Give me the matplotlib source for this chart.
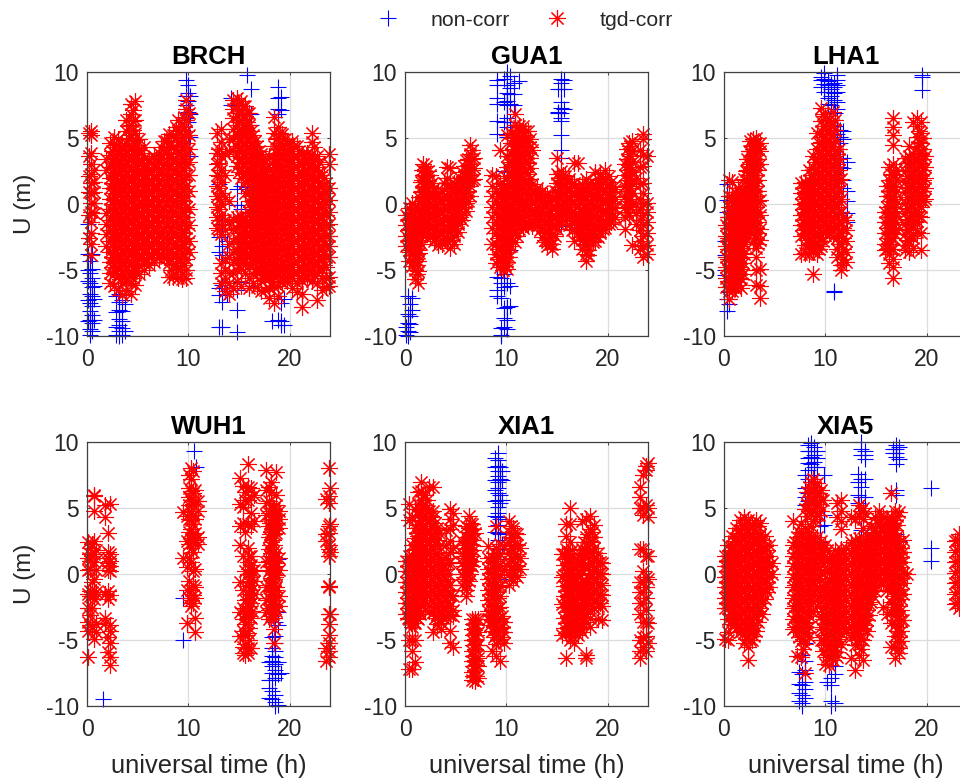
import matplotlib
matplotlib.use("Agg")
import matplotlib.pyplot as plt

plt.rcParams['font.family'] = ['Liberation Sans', 'DejaVu Sans']
plt.rcParams['axes.unicode_minus'] = False

STATIONS = ['BRCH', 'GUA1', 'LHA1', 'WUH1', 'XIA1', 'XIA5']
X_TICKS = [0, 10, 20]
Y_TICKS = [-10, -5, 0, 5, 10]

# ---- each series: list of times, and for each time a list of U values ----
BRCH_blue_t = [0.1, 0.3, 0.5, 0.7, 2.9, 3.2, 3.5, 3.8, 9.8, 10.0, 10.2, 15.8, 16.2, 18.9, 19.2, 19.5, 13.0, 13.3, 13.8, 14.8, 15.2, 16.0, 14.2, 18.3]
BRCH_blue_u = [
 [-1.5, -3.8, -5.0, -5.8, -7.3, -8.9],
 [-4.3, -5.2, -6.0, -6.8, -7.5, -8.1, -8.8, -9.5, -9.9],
 [-3.8, -4.9, -5.6, -6.3, -7.0, -7.7, -8.4, -9.0, -9.6],
 [-6.2, -7.2, -8.8],
 [-7.0, -8.2, -9.3, -9.9],
 [-6.8, -7.4, -8.0, -8.7, -9.2, -9.6, -10.0],
 [-6.5, -7.3, -8.1, -8.9, -9.4, -9.9],
 [-7.6, -9.6],
 [9.4, 8.2, 7.5, 6.5],
 [9.0, 8.4, 7.8, 7.0, 6.2, 5.2],
 [8.2, 6.8, 5.1, 3.6],
 [9.8, 1.3],
 [8.7, 6.8, 6.0, 4.5, 2.2],
 [8.9, 8.0, 7.2, 6.8, 2.8, -8.8],
 [8.1, 7.1, -7.5, -8.9, -9.2],
 [-7.2, -9.2],
 [3.9, 1.5, -2.5, -3.6, -6.4, -6.9, -9.3],
 [-1.5, -3.2, -3.9, -6.1, -7.4, -9.3],
 [-2.8, -3.6, -6.8],
 [-8.0, -9.7, -6.5, -0.1, 1.1],
 [-5.9, -0.4, 1.4],
 [6.8, 6.0, -0.7, -6.2],
 [8.0, 7.5],
 [-8.9],
]
BRCH_red_t = [0.15, 0.4, 0.7, 1.9, 2.3, 2.7, 3.1, 3.5, 3.9, 4.3, 4.7, 5.1, 5.6, 6.1, 6.6, 7.1, 7.6, 8.1, 8.5, 9.0, 9.4, 9.8, 10.1,
 12.8, 13.2, 13.6, 14.0, 14.4, 14.8, 15.2, 15.6, 16.0, 16.4, 16.8, 17.2, 17.6, 18.0, 18.5, 18.9, 19.3, 19.8, 20.2, 20.7, 21.2, 21.7, 22.2, 22.7, 23.2, 23.6, 23.95]
BRCH_red_u = [
 [5.4, 3.6, 2.1, 0.9, -0.8, -2.6],
 [5.5, 5.2, 3.9, 3.0, 2.3, 1.6, 0.8, 0.1, -0.6, -1.4, -2.2, -3.0, -3.9],
 [2.6, 1.7, 0.9, 0.1, -0.7],
 [3.4, 2.6, -0.7, -1.5, -2.3, -3.2],
 [4.6, 3.7, 2.8, 2.0, 1.2, 0.4, -0.4, -1.2, -2.0, -2.8, -3.6, -4.4, -5.2, -6.0],
 [5.1, 4.3, 3.5, 2.7, 1.9, 1.1, 0.3, -0.5, -1.3, -2.1, -2.9, -3.7, -4.5, -5.3, -6.2],
 [4.9, 4.1, 3.3, 2.5, 1.7, 0.9, 0.1, -0.7, -1.5, -2.3, -3.1, -3.9, -4.7, -5.5, -6.5],
 [4.4, 3.6, 2.8, 2.0, 1.2, 0.4, -0.4, -1.2, -2.0, -2.8, -3.6, -4.4, -5.2, -6.0, -6.9],
 [6.4, 5.5, 4.6, 3.8, 3.0, 2.2, 1.4, 0.6, -0.2, -1.0, -1.8, -2.6, -3.4, -4.2, -5.0, -5.8, -6.6],
 [7.6, 6.8, 6.0, 5.2, 4.4, 3.6, 2.8, 2.0, 1.2, 0.4, -0.4, -1.2, -2.0, -2.8, -3.6, -4.4, -5.2, -6.0, -6.8],
 [7.8, 6.4, 5.4, 4.5, 3.7, 2.9, 2.1, 1.3, 0.5, -0.3, -1.1, -1.9, -2.7, -3.5, -4.3, -5.1, -6.1],
 [4.9, 4.1, 3.3, 2.5, 1.7, 0.9, 0.1, -0.7, -1.5, -2.3, -3.1, -3.9, -4.7, -5.3],
 [4.3, 3.5, 2.7, 1.9, 1.1, 0.3, -0.5, -1.3, -2.1, -2.9, -3.7, -4.5, -5.0],
 [3.4, 2.6, 1.8, 1.0, 0.2, -0.6, -1.4, -2.2, -3.0, -3.8, -4.6],
 [3.6, 2.8, 2.0, 1.2, 0.4, -0.4, -1.2, -2.0, -2.8, -3.6, -4.4],
 [3.9, 3.1, 2.3, 1.5, 0.7, -0.1, -0.9, -1.7, -2.5, -3.3, -4.1],
 [4.8, 3.9, 3.0, 2.2, 1.4, 0.6, -0.2, -1.0, -1.8, -2.6, -3.4, -4.0],
 [5.3, 4.4, 3.5, 2.7, 1.9, 1.1, 0.3, -0.5, -1.3, -2.1, -2.9, -3.7, -4.5, -5.5],
 [5.2, 4.3, 3.4, 2.6, 1.8, 1.0, 0.2, -0.6, -1.4, -2.2, -3.0, -3.8, -4.6, -5.5],
 [6.4, 5.6, 4.7, 3.9, 3.1, 2.3, 1.5, 0.7, -0.1, -0.9, -1.7, -2.5, -3.3, -4.1, -4.9, -5.6],
 [5.9, 5.1, 4.3, 3.5, 2.7, 1.9, 1.1, 0.3, -0.5, -1.3, -2.1, -2.9, -3.7, -4.5, -5.3, -5.7],
 [7.9, 7.2, 6.4, 5.5, 4.6, 3.8, 3.0, 2.2, 1.4, 0.6, -0.2, -1.0, -1.8, -2.6, -3.4, -4.2, -5.0, -5.6],
 [6.9, 5.2, 4.2, 3.2, 2.2, 1.0, -0.4, -1.6, -2.8, -3.6],
 [5.4, 3.9, 3.0, 2.2, 1.4, 0.6, -0.2, -1.0, -1.8],
 [5.7, 4.7, 3.6, 2.6, 1.7, 0.8, 0.0, -0.8, -1.6, -2.3, -4.5, -5.2, -6.0],
 [3.8, 2.2, 0.5, -1.2, -2.0, -4.2, -5.0, -5.8, -6.6],
 [4.9, 4.0, 0.2, -1.4, -3.0, -4.0, -5.2, -6.0, -6.8],
 [7.9, 7.2, 6.5, 5.7, 4.9, 4.1, -1.1, -1.9, -2.8, -3.6, -4.4, -5.2, -6.4],
 [8.0, 7.4, 6.7, 6.0, 5.2, 4.4, 3.6, 2.9, -1.0, -1.8, -2.6, -3.4, -4.2, -5.0, -5.8],
 [7.8, 7.1, 6.4, 5.7, 5.0, 4.3, 3.5, 2.7, 2.0, -0.9, -1.7, -2.5, -3.3, -4.1, -4.9, -6.2],
 [7.4, 6.7, 6.0, 5.3, 4.6, 3.9, 3.1, 2.4, 1.7, 0.8, -1.0, -1.8, -2.6, -3.4, -4.2, -5.2],
 [6.9, 6.0, 5.0, 4.2, 3.4, 2.6, 1.8, 1.0, 0.2, -0.6, -1.4, -2.2, -3.0, -3.8, -4.6, -5.6, -6.4],
 [5.2, 4.3, 3.5, 2.7, 1.9, 1.1, 0.3, -0.5, -1.3, -2.1, -2.9, -3.7, -4.5, -5.3, -6.0],
 [4.4, 3.6, 2.8, 2.0, 1.2, 0.4, -0.4, -1.2, -2.0, -2.8, -3.6, -4.4, -5.2, -6.3],
 [3.8, 3.0, 2.2, 1.4, 0.6, -0.2, -1.0, -1.8, -2.6, -3.4, -4.2, -5.0, -5.8, -6.6],
 [3.1, 2.3, 1.5, 0.7, -0.1, -0.9, -1.7, -2.5, -3.3, -4.1, -4.9, -5.7, -6.5],
 [3.6, 2.6, 1.7, 0.9, 0.1, -0.7, -1.5, -2.3, -3.1, -3.9, -4.7, -5.5, -6.4, -7.1],
 [6.6, 5.4, 4.4, 3.4, 2.5, 1.7, 0.9, 0.1, -0.7, -1.5, -2.3, -3.1, -3.9, -4.7, -5.5, -6.3, -7.5],
 [5.8, 5.0, 4.2, 3.4, 2.6, 1.8, 1.0, 0.2, -0.6, -1.4, -2.2, -3.0, -3.8, -4.6, -5.4, -6.2, -7.0],
 [5.3, 4.5, 3.7, 2.9, 2.1, 1.3, 0.5, -0.3, -1.1, -1.9, -2.7, -3.5, -4.3, -5.1, -5.9],
 [4.6, 3.8, 3.0, 2.2, 1.4, 0.6, -0.2, -1.0, -1.8, -2.6, -3.4, -4.2, -5.0, -5.8],
 [4.8, 4.0, 3.2, 2.4, 1.6, 0.8, 0.0, -0.8, -1.6, -2.4, -3.2, -4.0, -4.8, -5.6, -6.4],
 [4.4, 3.6, 2.8, 2.0, 1.2, 0.4, -0.4, -1.2, -2.0, -2.8, -3.6, -4.4, -5.2, -6.0, -6.7],
 [3.8, 3.0, 2.2, 1.4, 0.6, -0.2, -1.0, -1.8, -2.6, -3.4, -4.2, -5.0, -5.8, -6.8, -7.8],
 [3.9, 3.1, 2.3, 1.5, 0.7, -0.1, -0.9, -1.7, -2.5, -3.3, -4.1, -4.9, -5.7],
 [5.4, 4.7, 3.8, 3.0, 2.2, 1.4, 0.6, -0.2, -1.0, -1.8, -2.6, -3.4, -4.2, -5.0, -5.8],
 [3.6, 2.8, 2.0, 1.2, 0.4, -0.4, -1.2, -2.0, -2.8, -3.6, -4.4, -5.2, -6.0, -7.3],
 [2.2, 1.4, 0.6, -0.2, -1.0, -1.8, -2.6, -3.4, -4.2, -5.0, -5.6, -6.5],
 [1.6, 0.8, 0.0, -0.8, -1.6, -2.4, -3.2, -4.0, -4.8, -5.6, -6.3],
 [3.8, 3.0, 1.2, 0.3, -0.6, -1.5, -2.4, -3.2, -4.0, -5.5, -6.2],
]
BRCH_fill_t = [2.5, 2.9, 3.3, 3.7, 4.1, 4.5, 4.9, 5.35, 5.85, 6.35, 6.85, 7.35, 7.85, 8.3, 8.75, 9.2, 9.6,
 13.0, 15.0, 15.4, 15.8, 16.2, 16.6, 17.0, 17.4, 17.8, 18.25, 18.7, 19.1, 19.55, 20.0, 20.45, 20.95, 21.45, 21.95, 22.45, 22.95, 23.4]
BRCH_fill_u = [
 [4.0, 3.2, 2.4, 1.6, 0.8, 0.0, -0.8, -1.6, -2.4, -3.2, -4.0, -4.8],
 [4.5, 3.7, 2.9, 2.1, 1.3, 0.5, -0.3, -1.1, -1.9, -2.7, -3.5, -4.3, -5.1],
 [3.9, 3.1, 2.3, 1.5, 0.7, -0.1, -0.9, -1.7, -2.5, -3.3, -4.1, -4.9, -5.7],
 [4.2, 3.4, 2.6, 1.8, 1.0, 0.2, -0.6, -1.4, -2.2, -3.0, -3.8, -4.6, -5.4],
 [5.9, 5.0, 4.2, 3.4, 2.6, 1.8, 1.0, 0.2, -0.6, -1.4, -2.2, -3.0, -3.8, -4.6, -5.4],
 [7.1, 6.3, 5.6, 4.8, 4.0, 3.2, 2.4, 1.6, 0.8, 0.0, -0.8, -1.6, -2.4, -3.2, -4.0, -4.8, -5.6],
 [4.5, 3.7, 2.9, 2.1, 1.3, 0.5, -0.3, -1.1, -1.9, -2.7, -3.5, -4.3],
 [3.9, 3.1, 2.3, 1.5, 0.7, -0.1, -0.9, -1.7, -2.5, -3.3, -4.1],
 [3.0, 2.2, 1.4, 0.6, -0.2, -1.0, -1.8, -2.6, -3.4, -4.2],
 [3.2, 2.4, 1.6, 0.8, 0.0, -0.8, -1.6, -2.4, -3.2, -4.0],
 [3.4, 2.7, 1.9, 1.1, 0.3, -0.5, -1.3, -2.1, -2.9, -3.7],
 [4.3, 3.5, 2.6, 1.8, 1.0, 0.2, -0.6, -1.4, -2.2, -3.0, -3.8],
 [4.8, 3.9, 3.1, 2.3, 1.5, 0.7, -0.1, -0.9, -1.7, -2.5, -3.3, -4.1],
 [4.7, 3.8, 3.0, 2.2, 1.4, 0.6, -0.2, -1.0, -1.8, -2.6, -3.4, -4.2, -5.0],
 [5.8, 5.0, 4.2, 3.4, 2.6, 1.8, 1.0, 0.2, -0.6, -1.4, -2.2, -3.0, -3.8, -4.6],
 [5.5, 4.7, 3.9, 3.1, 2.3, 1.5, 0.7, -0.1, -0.9, -1.7, -2.5, -3.3, -4.1, -4.9],
 [6.6, 5.8, 5.0, 4.2, 3.4, 2.6, 1.8, 1.0, 0.2, -0.6, -1.4, -2.2, -3.0, -3.8, -4.6],
 [4.2, 3.1, 2.1, 1.2, 0.4, -0.4, -1.2, -2.0],
 [7.6, 6.9, 6.2, 5.5, 4.8, 4.0, 3.2, 2.4, -1.4, -2.2, -3.0, -3.8, -4.6],
 [7.4, 6.7, 6.0, 5.3, 4.6, 3.8, 3.0, 2.3, -1.3, -2.1, -2.9, -3.7, -4.5],
 [6.9, 6.2, 5.5, 4.8, 4.1, 3.4, 2.7, 2.0, -1.4, -2.2, -3.0, -3.8],
 [5.5, 4.6, 3.8, 3.0, 2.2, 1.4, 0.6, -0.2, -1.0, -1.8, -2.6, -3.4, -4.2],
 [4.8, 3.9, 3.1, 2.3, 1.5, 0.7, -0.1, -0.9, -1.7, -2.5, -3.3, -4.1, -4.9],
 [4.0, 3.2, 2.4, 1.6, 0.8, 0.0, -0.8, -1.6, -2.4, -3.2, -4.0, -4.8],
 [3.4, 2.6, 1.8, 1.0, 0.2, -0.6, -1.4, -2.2, -3.0, -3.8, -4.6, -5.4],
 [2.7, 1.9, 1.1, 0.3, -0.5, -1.3, -2.1, -2.9, -3.7, -4.5, -5.3],
 [3.1, 2.1, 1.3, 0.5, -0.3, -1.1, -1.9, -2.7, -3.5, -4.3, -5.1, -5.9],
 [4.9, 3.9, 3.0, 2.1, 1.3, 0.5, -0.3, -1.1, -1.9, -2.7, -3.5, -4.3, -5.1],
 [5.4, 4.6, 3.8, 3.0, 2.2, 1.4, 0.6, -0.2, -1.0, -1.8, -2.6, -3.4, -4.2, -5.0, -5.8],
 [4.9, 4.1, 3.3, 2.5, 1.7, 0.9, 0.1, -0.7, -1.5, -2.3, -3.1, -3.9, -4.7, -5.5],
 [4.2, 3.4, 2.6, 1.8, 1.0, 0.2, -0.6, -1.4, -2.2, -3.0, -3.8, -4.6, -5.4],
 [4.4, 3.6, 2.8, 2.0, 1.2, 0.4, -0.4, -1.2, -2.0, -2.8, -3.6, -4.4, -5.2],
 [4.0, 3.2, 2.4, 1.6, 0.8, 0.0, -0.8, -1.6, -2.4, -3.2, -4.0, -4.8, -5.6],
 [3.4, 2.6, 1.8, 1.0, 0.2, -0.6, -1.4, -2.2, -3.0, -3.8, -4.6, -5.4],
 [3.5, 2.7, 1.9, 1.1, 0.3, -0.5, -1.3, -2.1, -2.9, -3.7, -4.5, -5.3],
 [4.3, 3.4, 2.6, 1.8, 1.0, 0.2, -0.6, -1.4, -2.2, -3.0, -3.8, -4.6, -5.4],
 [3.2, 2.4, 1.6, 0.8, 0.0, -0.8, -1.6, -2.4, -3.2, -4.0, -4.8],
 [2.0, 1.0, 0.2, -0.6, -1.4, -2.2, -3.0, -3.8, -4.6],
]

GUA1_blue_t = [0.1, 0.3, 0.5, 0.7, 9.1, 9.5, 9.8, 10.1, 10.4, 10.8, 11.3, 15.1, 15.4, 15.7]
GUA1_blue_u = [
 [-9.3, -9.9],
 [-7.0, -8.3, -9.0, -9.6, -10.0],
 [-7.6, -8.5, -9.1, -9.7],
 [-7.1, -8.0],
 [9.4, 9.0, 8.0, 7.6, 6.3, 5.3, -5.5, -6.5, -7.0],
 [-5.6, -6.0, -7.1, -9.9, -10.0, -9.4],
 [9.5, 7.7, 6.2, 2.5, 1.5, -5.3, -6.3, -7.9, -8.6, -9.3],
 [10.0, 9.0, 8.4, 7.8, 7.5, 6.5, 5.8, 5.1, -6.0, -7.8, -8.8, -9.5],
 [9.7, 8.8, 8.3, 7.6, 6.2, -2.9, -3.5, -6.2, -7.7],
 [9.2, 8.3, 7.5],
 [9.3],
 [8.7, 7.0, 6.9],
 [9.5, 9.2, 8.7, 7.7, 7.3, 6.9, 6.5, 6.3, 5.2, 4.1, 3.5, -1.7],
 [9.4, 8.7, 7.2],
]
GUA1_red_t = [0.05, 0.35, 0.7, 1.0, 1.3, 1.55, 1.8, 2.1, 2.5, 2.9, 3.3, 3.7, 4.1, 4.4, 4.8, 5.2, 5.6, 6.0, 6.4, 6.8,
 8.6, 9.0, 9.4, 9.7, 10.1, 10.5, 10.9, 11.3, 11.7, 12.1, 12.5, 13.0, 13.5, 14.0, 14.5, 15.0, 15.4, 15.8, 16.2, 16.7, 17.1, 17.5, 17.9, 18.3, 18.8, 19.3, 19.8, 20.3, 20.7,
 21.7, 22.1, 22.4, 22.8, 23.2, 23.5, 23.9]
GUA1_red_u = [
 [-0.8, -1.6, -2.4, -3.2],
 [-0.3, -1.1, -1.9, -2.7, -3.5, -4.3],
 [0.1, -0.7, -1.5, -2.3, -3.1, -3.9, -4.7],
 [-0.2, -1.0, -1.8, -2.6, -3.4, -4.2, -5.0, -5.7],
 [-1.1, -1.9, -2.7, -3.5, -4.3, -5.1, -6.0],
 [1.7, 0.9, 0.1, -0.7, -1.5, -2.3, -3.0],
 [3.0, 2.2, 1.4, 0.6, -0.2, -1.0, -1.8],
 [2.9, 2.1, 1.3, 0.5, -0.3, -1.1, -1.8],
 [2.2, 1.4, 0.6, -0.2, -1.0, -1.8, -2.5],
 [1.2, 0.4, -0.4, -1.2, -2.0, -2.8],
 [0.8, 0.0, -0.8, -1.6, -2.4, -3.1],
 [1.0, 0.2, -0.6, -1.4, -2.2, -3.0],
 [2.8, 2.0, 1.2, 0.4, -0.4, -1.2, -2.0, -2.8],
 [2.7, 1.5, 0.7, -0.1, -0.9, -1.7, -2.5, -3.3],
 [1.6, 0.8, 0.0, -0.8, -1.6, -2.4, -3.0],
 [1.7, 0.9, 0.1, -0.7, -1.5, -2.1],
 [2.4, 1.6, 0.8, 0.0, -0.8, -1.2],
 [3.3, 2.5, 1.7, 0.9, 0.1, -0.5],
 [4.5, 3.8, 3.0, 2.2, 1.4, 0.6],
 [3.5, 2.7, 1.9],
 [2.2, 1.4, 0.6, -0.2, -1.0, -1.8, -3.0],
 [2.1, 1.0, 0.2, -0.6, -1.4, -2.2, -3.0, -3.8, -4.5],
 [4.1, 1.6, 0.8, 0.0, -0.8, -1.6, -2.4, -3.2, -4.0, -4.8],
 [1.2, 0.4, -0.4, -1.2, -2.0, -2.8, -3.6, -4.4, -5.0],
 [5.2, 3.6, 2.8, 2.0, 1.2, 0.4, -0.4, -1.2, -2.0, -2.8, -3.6, -4.4, -4.9],
 [5.4, 4.6, 3.8, 3.0, 2.2, 1.4, 0.6, -0.2, -1.0, -1.8, -2.6, -3.2],
 [6.8, 6.0, 5.2, 4.4, 3.6, 2.8, 2.0, 1.2, 0.4, -0.4, -1.2, -2.0, -2.9],
 [5.9, 5.1, 4.3, 3.5, 2.7, 1.9, 1.1, 0.3, -0.5, -1.3, -1.9],
 [5.9, 5.2, 4.4, 3.6, 2.8, 2.0, 1.2, 0.4, -0.4, -1.2, -1.8],
 [5.5, 4.7, 3.9, 3.1, 2.3, 1.5, 0.7, -0.1, -0.9, -1.6],
 [4.1, 1.5, 0.8, 0.1, -0.6, -1.3, -1.7],
 [1.2, 0.5, -0.2, -0.9, -1.6],
 [1.0, 0.3, -0.4, -1.1, -1.8, -2.5],
 [0.6, -0.1, -0.8, -1.5, -2.2, -2.9, -3.2],
 [0.5, -0.2, -0.9, -1.6, -2.3, -3.0, -3.4],
 [3.5, 2.3, 1.6, 0.9, 0.2, -0.5, -1.2, -1.9],
 [2.5, 1.8, 1.1, 0.4, -0.3, -1.0],
 [2.1, 1.4, 0.7, 0.0, -0.7, -1.3],
 [1.9, 1.2, 0.5, -0.2, -0.9, -1.6],
 [3.1, 1.6, 0.9, 0.2, -0.5, -1.2, -1.9, -2.8],
 [3.1, 1.3, 0.6, -0.1, -0.8, -1.5, -2.2],
 [1.5, 0.8, 0.1, -0.6, -1.3, -2.0, -2.7, -3.4],
 [1.9, 1.1, 0.4, -0.3, -1.0, -1.7, -2.4, -3.1, -3.8, -4.3],
 [1.6, 0.9, 0.2, -0.5, -1.2, -1.9, -2.3],
 [2.4, 1.5, 0.7, -0.1, -0.9, -1.7, -2.4, -2.8],
 [2.3, 1.5, 0.7, -0.1, -0.9, -1.6, -2.2],
 [2.6, 1.8, 1.0, 0.2, -0.6, -1.3, -1.8],
 [1.7, 0.9, 0.1, -0.7, -1.4],
 [1.1, 0.4, -0.3, -1.0],
 [3.0, 2.2, 1.4, 0.6, -0.2, -1.0, -1.9],
 [4.6, 3.8, 3.0, 2.2, 1.4, 0.6, -0.2, -0.8],
 [4.8, 4.0, 3.2, 2.4, 1.6, 0.8, 0.0, -3.1],
 [2.0, 0.0, -0.7, -1.5],
 [4.1, 2.8, 1.5, 0.4, -0.4, -1.2, -2.0, -2.8, -3.4],
 [5.3, 4.9, 3.7, 2.9, 1.6, 0.8, 0.0, -0.8, -1.6, -2.4, -3.2, -4.0],
 [3.6, 0.1, -0.6, -1.4, -2.2, -3.1, -3.8],
]
GUA1_fill_t = [0.5, 0.85, 1.15, 1.4, 1.7, 1.95, 2.3, 2.7, 3.1, 3.5, 3.9, 4.6, 5.0, 5.4, 5.8, 6.2, 6.6,
 9.2, 9.55, 9.9, 10.3, 10.7, 11.1, 11.5, 11.9, 12.3, 12.8, 13.3, 13.8, 14.3, 14.8, 15.2, 15.6, 16.0, 16.5, 17.3, 17.7, 18.1, 18.6, 19.1, 19.6, 20.1, 20.5, 21.9, 22.2]
GUA1_fill_u = [
 [-0.6, -1.2, -2.0, -2.8, -3.6],
 [-0.4, -1.2, -2.0, -2.8, -3.6, -4.4],
 [-0.6, -1.4, -2.2, -3.0, -3.8, -4.6, -5.3],
 [0.5, -0.3, -1.3, -2.1, -2.9, -3.7],
 [2.6, 1.8, 1.0, 0.2, -0.6, -1.4, -2.2],
 [2.5, 1.7, 0.9, 0.1, -0.7, -1.5],
 [2.5, 1.8, 1.0, 0.2, -0.6, -1.4, -2.2],
 [1.6, 0.8, 0.0, -0.8, -1.6, -2.4],
 [0.6, -0.2, -1.0, -1.8, -2.6],
 [0.4, -0.4, -1.2, -2.0, -2.8],
 [1.6, 0.6, -0.2, -1.0, -1.8, -2.6],
 [1.2, 0.4, -0.4, -1.2, -2.0, -2.7],
 [1.3, 0.5, -0.3, -1.1, -1.8],
 [2.0, 1.2, 0.4, -0.4, -1.0],
 [2.9, 2.1, 1.3, 0.5, -0.2],
 [3.4, 2.6, 1.8, 1.0, 0.2],
 [4.1, 3.4, 2.6, 1.8],
 [0.6, -0.2, -1.0, -1.8, -2.6, -3.4, -4.2],
 [1.2, 0.4, -0.4, -1.2, -2.0, -2.8, -3.6, -4.4],
 [0.8, 0.0, -0.8, -1.6, -2.4, -3.2, -4.0, -4.7],
 [3.2, 2.4, 1.6, 0.8, 0.0, -0.8, -1.6, -2.4, -3.2, -4.0],
 [5.0, 4.2, 3.4, 2.6, 1.8, 1.0, 0.2, -0.6, -1.4, -2.2],
 [5.6, 4.8, 4.0, 3.2, 2.4, 1.6, 0.8, 0.0, -0.8, -1.6, -2.4],
 [5.5, 4.7, 3.9, 3.1, 2.3, 1.5, 0.7, -0.1, -0.9, -1.6],
 [5.5, 4.8, 4.0, 3.2, 2.4, 1.6, 0.8, 0.0, -0.8, -1.5],
 [4.9, 4.3, 3.5, 2.7, 1.9, 1.1, 0.3, -0.5, -1.2],
 [0.9, 0.2, -0.5, -1.2],
 [0.8, 0.1, -0.6, -1.3, -2.0],
 [0.7, 0.0, -0.7, -1.4, -2.1, -2.7],
 [0.2, -0.5, -1.2, -1.9, -2.6, -3.0],
 [1.0, 0.4, -0.3, -1.0, -1.7, -2.4],
 [2.0, 1.3, 0.6, -0.1, -0.8, -1.5],
 [2.2, 1.5, 0.8, 0.1, -0.6],
 [1.7, 1.0, 0.3, -0.4, -1.0],
 [1.5, 0.8, 0.1, -0.6, -1.3, -2.0],
 [1.0, 0.3, -0.4, -1.1, -1.8, -2.5],
 [1.2, 0.5, -0.2, -0.9, -1.6, -2.3, -3.0],
 [1.5, 0.8, 0.0, -0.7, -1.4, -2.1, -2.8, -3.5, -3.9],
 [1.3, 0.6, -0.1, -0.8, -1.5, -2.2, -2.9],
 [1.9, 1.2, 0.4, -0.4, -1.2, -2.0, -2.5],
 [1.9, 1.1, 0.3, -0.5, -1.3, -1.9],
 [2.1, 1.3, 0.5, -0.3, -1.1, -1.5],
 [1.3, 0.5, -0.3, -1.1],
 [4.2, 3.4, 2.6, 1.8, 1.0, 0.2, -0.6],
 [4.4, 3.6, 2.8, 2.0, 1.2, 0.4],
]

LHA1_blue_t = [0.1, 0.3, 0.5, 9.6, 9.9, 10.3, 10.6, 10.9, 11.2, 11.5, 11.8, 12.1, 11.0, 19.6]
LHA1_blue_u = [
 [-2.8, -3.9, -5.0, -5.4],
 [1.5, 0.3, -0.6, -7.2, -8.1],
 [-6.7, -7.6],
 [9.6, 9.4, 8.9],
 [9.9, 9.5, 9.1, 8.5],
 [9.3, 9.0, 8.5, 8.0, 7.6],
 [9.1, 8.7, 8.2, 7.5],
 [9.2, 8.9, 8.4, 7.9, -6.6, -6.7],
 [9.8, 9.4, 9.0, 8.5, 7.7, 7.2, 5.6, 5.3],
 [5.6, 5.1, 4.6, 3.5, 2.8],
 [5.5, 4.9, 3.5, 2.7, 1.8, 1.2],
 [3.2, 1.0, 0.2, -0.7, -1.4],
 [6.9, 5.9],
 [9.8, 9.6, 8.6],
]
LHA1_red_t = [0.2, 0.5, 0.8, 1.1, 1.4, 1.7, 2.0, 2.3, 2.6, 2.9, 3.2, 3.55,
 7.6, 8.0, 8.4, 8.8, 9.2, 9.6, 10.0, 10.4, 10.8, 11.2, 11.6, 12.0,
 15.9, 16.3, 16.7, 17.0, 17.9, 18.3, 18.7, 19.1, 19.5, 19.9]
LHA1_red_u = [
 [-1.6, -2.4, -3.2, -4.0, -4.8, -5.6, -6.3],
 [1.8, 0.6, -0.2, -1.0, -1.8, -2.6, -3.4, -4.2, -5.0, -5.8, -6.6, -7.2],
 [1.7, 0.5, -0.3, -1.1, -1.9, -2.7, -3.5, -4.3, -5.1, -5.9, -6.6],
 [0.9, 0.1, -0.7, -1.5, -2.3, -3.1, -3.9, -4.7, -5.5, -6.4],
 [1.2, 0.4, -0.4, -1.2, -2.0, -2.8, -3.6, -4.4, -5.2, -6.1],
 [0.7, -0.1, -0.9, -1.7, -2.5, -3.3, -4.1, -4.9, -5.7, -6.4],
 [1.9, 1.0, 0.2, -0.6, -1.4, -2.2, -3.0, -3.8],
 [3.4, 2.6, 1.8, 1.0, 0.2, -0.6, -1.4, -2.2],
 [4.8, 4.0, 3.2, 2.4, 1.6, 0.8, 0.0, -0.8, -1.6],
 [4.9, 4.2, 3.4, 2.6, 1.8, 1.0, 0.2, -0.6, -1.4, -2.2, -2.9],
 [5.0, 4.6, 3.8, 3.0, 2.2, 1.4, 0.6, -0.2, -1.0, -1.8, -2.6, -3.3, -4.0, -5.0, -6.1],
 [4.6, 4.0, 3.0, 0.3, -0.8, -1.9, -2.7, -4.9, -6.2, -7.1],
 [1.6, 0.8, 0.0, -0.8, -1.6, -2.4, -3.8],
 [1.7, 0.9, 0.1, -0.7, -1.5, -2.3, -3.1, -3.7],
 [2.6, 1.8, 1.0, 0.2, -0.6, -1.4, -2.2, -3.0, -3.8],
 [3.6, 2.8, 2.0, 1.2, 0.4, -0.4, -1.2, -2.0, -2.8, -3.6, -5.3],
 [5.4, 4.2, 3.4, 2.6, 1.8, 1.0, 0.2, -0.6, -1.4, -2.2, -3.0, -3.8],
 [7.3, 6.3, 5.5, 4.7, 3.9, 3.1, 2.3, 1.5, 0.7, -0.1, -0.9, -1.7, -2.5, -3.2],
 [6.7, 5.9, 5.1, 4.3, 3.5, 2.7, 1.9, 1.1, 0.3, -0.5, -1.3, -2.0],
 [6.4, 5.6, 4.8, 4.0, 3.2, 2.4, 1.6, 0.8, 0.0, -0.8, -1.6, -2.2],
 [7.0, 6.0, 5.2, 4.4, 3.6, 2.8, 2.0, 1.2, 0.4, -0.4, -1.2, -2.0, -2.5],
 [3.8, 3.0, 2.2, 1.4, 0.6, -0.2, -1.0, -1.8, -2.6, -3.4, -4.0],
 [1.9, 0.4, -0.6, -1.4, -2.2, -3.0, -3.8, -4.6, -5.0],
 [-1.2, -2.0, -2.8, -3.6, -4.4],
 [-0.6, -1.4, -2.2, -3.0, -3.5],
 [2.8, 1.8, 1.0, 0.2, -0.6, -1.4, -2.2, -3.0, -3.8, -4.5],
 [6.5, 5.8, 5.2, 4.5, 3.0, 2.2, 1.4, 0.6, -0.2, -1.0, -1.8, -2.6, -3.4, -4.2, -4.8, -5.6],
 [2.6, 1.8, 0.9, 0.0, -0.9, -1.9],
 [3.5, 2.5, 1.7, 0.9, 0.1, -0.7, -1.5, -2.3, -3.1, -3.5],
 [4.4, 3.6, 2.8, 2.0, 1.2, 0.4, -0.4, -1.2, -2.0, -2.8, -3.6],
 [6.2, 3.8, 3.0, 2.2, 1.4, 0.6, -0.2, -1.0, -1.8, -2.6, -3.3],
 [6.5, 5.9, 5.1, 4.3, 3.5, 2.7, 1.9, 1.1, 0.3, -0.5, -1.3, -2.1],
 [6.2, 5.4, 4.6, 3.8, 3.0, 2.2, 1.4, 0.6, -0.2, -1.0, -2.2, -3.5],
 [3.6, 2.8, 2.0, 1.2, 0.4],
]
LHA1_fill_t = [0.35, 0.65, 0.95, 1.25, 1.55, 1.85, 2.15, 2.45, 2.75, 3.05, 3.35,
 7.8, 8.2, 8.6, 9.0, 9.4, 9.8, 10.2, 10.6, 11.0, 11.4, 11.8,
 16.1, 16.5, 16.85, 18.1, 18.5, 18.9, 19.3, 19.7]
LHA1_fill_u = [
 [-1.0, -1.8, -2.6, -3.4, -4.2, -5.0, -5.8],
 [0.2, -0.6, -1.4, -2.2, -3.0, -3.8, -4.6, -5.4, -6.2],
 [0.1, -0.7, -1.5, -2.3, -3.1, -3.9, -4.7, -5.5, -6.2],
 [0.5, -0.3, -1.1, -1.9, -2.7, -3.5, -4.3, -5.1, -5.9],
 [0.8, 0.0, -0.8, -1.6, -2.4, -3.2, -4.0, -4.8, -5.6],
 [0.3, -0.5, -1.3, -2.1, -2.9, -3.7, -4.5, -5.3],
 [2.5, 1.4, 0.6, -0.2, -1.0, -1.8, -2.6],
 [4.0, 3.0, 2.2, 1.4, 0.6, -0.2, -1.0, -1.8],
 [4.4, 3.6, 2.8, 2.0, 1.2, 0.4, -0.4, -1.2],
 [4.6, 3.8, 3.0, 2.2, 1.4, 0.6, -0.2, -1.0, -1.8, -2.6],
 [4.2, 3.4, 2.6, 1.8, 1.0, 0.2, -0.6, -1.4, -2.2, -3.0],
 [1.2, 0.4, -0.4, -1.2, -2.0],
 [1.3, 0.5, -0.3, -1.1, -1.9, -2.7],
 [2.2, 1.4, 0.6, -0.2, -1.0, -1.8, -2.6, -3.4],
 [3.2, 2.4, 1.6, 0.8, 0.0, -0.8, -1.6, -2.4, -3.2],
 [4.6, 3.8, 3.0, 2.2, 1.4, 0.6, -0.2, -1.0, -1.8, -2.6, -3.4],
 [6.8, 5.9, 5.1, 4.3, 3.5, 2.7, 1.9, 1.1, 0.3, -0.5, -1.3, -2.1, -2.8],
 [6.3, 5.5, 4.7, 3.9, 3.1, 2.3, 1.5, 0.7, -0.1, -0.9, -1.7],
 [6.0, 5.2, 4.4, 3.6, 2.8, 2.0, 1.2, 0.4, -0.4, -1.2, -1.9],
 [6.4, 5.6, 4.8, 4.0, 3.2, 2.4, 1.6, 0.8, 0.0, -0.8, -1.6],
 [4.2, 3.4, 2.6, 1.8, 1.0, 0.2, -0.6, -1.4, -2.2, -3.0],
 [-1.0, -1.8, -2.6, -3.4, -4.2],
 [1.4, 0.6, -0.2, -1.0, -1.8, -2.6, -3.4],
 [2.3, 1.4, 0.6, -0.2, -1.0, -1.8, -2.6, -3.4],
 [2.2, 1.3, 0.4, -0.5, -1.4, -2.3],
 [3.1, 2.1, 1.3, 0.5, -0.3, -1.1, -1.9, -2.7],
 [3.2, 2.4, 1.6, 0.8, 0.0, -0.8, -1.6, -2.4],
 [3.4, 2.6, 1.8, 1.0, 0.2, -0.6, -1.4],
 [5.5, 4.7, 3.9, 3.1, 2.3, 1.5, 0.7, -0.1, -0.9],
 [5.0, 4.2, 3.4, 2.6, 1.8, 1.0, 0.2],
]

WUH1_blue_t = [1.6, 9.5, 9.5, 10.6, 10.8, 18.0, 18.3, 18.6, 18.9, 19.2]
WUH1_blue_u = [
 [-9.5],
 [-1.8],
 [-5.0],
 [9.3],
 [8.1],
 [-6.7, -8.0, -8.6, -9.4],
 [-4.8, -5.6, -6.2, -6.6, -7.0, -7.5, -8.0, -8.9, -9.5],
 [-3.6, -4.7, -5.2, -5.8, -6.3, -6.8, -7.3, -7.9, -9.2, -9.7, -10.0],
 [1.1, -2.9, -3.9, -6.7, -7.6, -9.9],
 [-7.5],
]
WUH1_red_t = [0.1, 0.3, 0.5, 0.7, 0.9, 1.8, 2.1, 2.3, 9.5, 9.9, 10.1, 10.3, 10.5, 10.7, 11.0,
 15.1, 15.4, 15.6, 15.9, 16.2, 16.5, 17.7, 18.0, 18.2, 18.5, 18.7, 19.0, 23.6, 23.9, 24.0]
WUH1_red_u = [
 [2.4, 1.2, 0.3, -1.5, -2.6, -3.6, -4.3, -6.3],
 [2.0, 1.5, 1.0, 0.4, -1.3, -1.7, -3.1, -3.9],
 [2.3, 1.4, -0.6, -1.4, -1.7, -2.6, -4.0],
 [6.0, 5.9, 4.8, 2.5, 1.5, 0.9, -0.4, -1.5, -1.9, -4.9],
 [1.8, 0.3, -1.4, -3.8, -4.4],
 [5.2, 4.3, -1.5, -3.3, -3.7],
 [3.1, 1.7, 1.2, 0.8, 0.3, -1.3, -1.9, -4.8, -5.9],
 [5.3, 1.5, 1.0, 0.6, 0.2, -1.6, -3.9, -4.3, -5.2, -6.3, -6.9],
 [4.7, 1.2],
 [4.4, 2.5, 0.5, -1.2, -3.7],
 [7.5, 6.5, 5.8, 5.2, 4.2, 3.2, 2.3, 1.2, -0.5, -1.8],
 [8.0, 7.2, 6.3, 5.6, 4.8, 4.1, 3.4, 2.7, 2.0, 0.9, -1.2, -2.0, -2.4],
 [7.8, 6.1, 5.3, 4.5, 3.8, 3.0, 2.4, 1.7, 0.2, -0.8, -1.6, -2.2],
 [6.4, 5.5, 4.2, 3.1, 2.6, 0.4, -1.0, -1.8, -3.3, -4.4],
 [5.5, 4.8, 2.8, 2.3],
 [7.3, 5.3, 2.2, 3.6, -0.6, -2.9, -4.7],
 [6.7, 5.1, 3.9, 1.4, -1.2, -2.6, -3.4, -4.3, -5.5, -6.0],
 [6.2, 5.6, 3.2, 0.2, -2.0, -3.0, -3.8, -4.6, -5.3, -6.1],
 [8.3, 6.6, 5.6, 3.8, 2.0, 0.9, 0.0, -0.9, -1.9, -2.8, -3.6, -4.5, -5.6, -6.0],
 [6.5, 5.8, 4.6, 3.6, 1.4, 0.7, -0.2, -1.2, -2.2, -3.3, -5.6],
 [6.0, 4.0, 0.3, -0.5, -1.5],
 [7.9, 6.4, 5.4, 4.5, 0.9, -1.0, -2.0, -2.9],
 [6.6, 5.5, 4.6, 3.6, 2.8, 1.9, 1.0, 0.2, -0.8, -1.8, -2.7, -3.4],
 [7.0, 6.2, 4.2, 3.2, 2.4, 1.6, 0.6, -0.3, -1.3, -2.3, -3.2],
 [5.0, 4.4, 3.7, 3.0, 2.2, 1.3, 0.5, -0.4, -1.4, -2.5, -3.3, -4.2, -5.2],
 [7.7, 6.0, 5.2, 4.5, 3.9, 3.1, 1.6, 0.8, -0.1, -1.0, -2.0, -2.8],
 [4.8, 4.2, 3.5, 1.2, 0.3, -1.7, -2.4],
 [5.7, 3.0, 2.5, -6.6, -5.6],
 [8.0, 5.9, 5.4, 3.6, 3.1, 2.2, 1.9, 1.4, -0.9, -1.0, -3.0, -3.8, -4.6, -5.2, -5.8, -6.3],
 [6.5, 3.8, 1.7, -3.0],
]
WUH1_fill_t = [16.0, 16.3, 18.1, 18.4, 18.6]
WUH1_fill_u = [
 [1.4, 0.4, -0.5, -1.5, -2.4, -3.2, -4.1, -5.0],
 [0.2, -0.8, -1.8, -2.8],
 [4.8, 3.9, 3.0, 2.2, 1.4, 0.3, -0.8, -1.8, -2.6],
 [5.0, 4.1, 3.4, 2.6, 1.7, 0.9, 0.0, -0.9, -2.0, -3.0],
 [4.8, 4.2, 3.4, 0.6, -0.2, -1.2, -2.4],
]

XIA1_blue_t = [8.9, 9.2, 9.4, 9.6]
XIA1_blue_u = [
 [8.8, 8.1, 7.1, 6.4, 5.5, 4.4, 3.2],
 [9.2, 8.6, 8.2, 7.8, 7.4, 7.0, 6.5, 6.1, 5.6, 5.1, 4.6, 4.3, 3.7, 3.1, 2.6, 2.0, 1.4],
 [8.1, 7.2, 6.0, 5.4, 4.2, 3.0, 1.9, 1.1, 0.3, -0.4],
 [7.8, 7.1, 5.6, 2.3],
]
XIA1_red_t = [0.1, 0.4, 0.7, 1.0, 1.3, 1.6, 2.0, 2.4, 2.8, 3.2, 3.6, 4.0, 4.4, 4.7,
 5.6, 6.0, 6.3, 6.6, 6.9, 7.2, 8.2, 8.6, 9.0, 9.4, 9.8, 10.3, 10.7, 11.1, 11.4,
 15.5, 15.9, 16.3, 16.7, 17.1, 17.5, 17.9, 18.3, 18.7, 19.1, 19.5, 23.2, 23.5, 23.8, 24.0]
XIA1_red_u = [
 [1.0, 0.2, -0.6, -1.4, -2.2, -3.0],
 [5.3, 4.1, 1.4, 0.6, -0.2, -1.0, -1.8, -2.6, -3.4, -5.0, -7.2],
 [4.3, 2.2, 1.4, 0.6, -0.2, -1.0, -1.8, -2.6, -3.4, -4.0, -5.0, -5.8, -7.2],
 [4.9, 3.5, 2.7, 1.9, 1.1, 0.3, -0.5, -1.3, -2.1, -2.9, -3.7, -5.0, -6.7],
 [6.2, 5.3, 4.5, 3.7, 2.9, 2.1, 1.3, 0.5, -0.3, -1.1, -1.9, -2.7, -3.4],
 [7.0, 6.3, 5.6, 4.8, 4.0, 3.2, 2.4, 1.6, 0.8, 0.0, -0.8, -1.6, -2.4],
 [6.0, 5.2, 4.4, 3.6, 2.8, 2.0, 1.2, 0.4, -0.4, -1.2, -2.0, -2.7],
 [6.6, 4.8, 4.0, 3.2, 2.4, 1.6, 0.8, 0.0, -0.8, -1.6, -2.8],
 [6.6, 4.8, 4.3, 3.5, 2.7, 1.9, 1.1, 0.3, -0.5, -1.3, -2.1, -2.9, -4.4],
 [3.5, 2.6, 1.6, 0.8, 0.0, -0.8, -1.6, -2.4, -3.2, -3.8],
 [1.1, 0.3, -0.5, -1.3, -2.1, -2.9, -3.7, -4.2],
 [3.3, 2.2, 1.2, 0.4, -0.4, -1.2, -2.0, -2.8, -3.2],
 [4.9, 4.2, 3.4, 2.5, 1.7, 0.9, -0.8, -1.6, -2.4, -3.1, -4.3, -5.2],
 [4.6, 3.7, 2.0, -1.7, -2.7, -3.2, -5.5],
 [2.5, 1.6, 0.8, 0.0, -0.8],
 [3.6, 2.8, 2.0, 1.2, 0.4, -0.4, -1.2, -1.7],
 [4.4, 3.5, 2.7, 1.9, 1.1, 0.3, -0.5],
 [3.8, 3.0, 2.2, 1.4, 0.6, -3.4, -4.2, -5.0, -5.8, -6.6, -7.4, -8.0],
 [3.1, -3.4, -4.1, -4.9, -5.7, -6.5, -7.3, -8.1],
 [-3.4, -4.4, -5.4, -6.4, -7.0, -7.9],
 [2.1, 1.2, 0.4, -0.4, -1.2, -2.0, -2.8, -3.4],
 [1.3, 0.5, -0.3, -1.1, -1.9, -2.7, -3.5, -4.3, -5.8],
 [3.6, 2.0, 1.0, 0.2, -0.6, -1.4, -2.2, -3.0, -3.8, -4.6, -5.3, -6.2],
 [2.3, 1.5, 0.7, -0.1, -0.9, -1.7, -2.5, -3.3, -4.1, -4.9, -6.6],
 [2.1, 0.3, -3.6, -4.4, -5.2],
 [4.0, 3.2, 2.4, 1.6, 0.8, 0.0, -0.8],
 [3.5, 2.7, 1.9, 1.1, 0.3, -0.5],
 [3.0, 2.2, 1.4, 0.6, -0.2],
 [2.0, 1.2, 0.4],
 [1.5, -0.2, -2.3, -4.6],
 [3.8, 2.9, 1.9, 1.1, 0.3, -0.5, -1.3, -2.1, -2.9, -3.7, -4.5, -6.4],
 [5.0, 3.8, 2.4, 1.2, 0.4, -0.4, -1.2, -2.0, -2.8, -3.6, -4.4, -5.0],
 [1.3, 0.5, -0.3, -1.1, -1.9, -2.7, -3.5, -4.3, -5.2],
 [0.8, 0.0, -0.8, -1.6, -2.4, -3.2, -4.0, -4.6],
 [4.0, 1.9, 1.1, 0.3, -0.5, -1.3, -2.1, -2.9, -3.7, -4.4],
 [4.2, 2.8, 1.8, -0.6, -1.4, -2.2, -3.0, -3.6, -6.1, -6.4],
 [4.4, 3.4, 2.5, 1.7, 0.9, 0.1, -0.7, -1.5, -2.3, -3.3, -4.0],
 [3.7, 2.8, 2.0, 1.2, 0.4, -0.4, -1.2, -2.0, -2.6],
 [1.6, 0.8, 0.0, -0.8, -1.6, -2.4, -3.4],
 [0.8, 0.0, -0.8, -1.6, -2.4, -3.5],
 [6.6, 5.8, 5.0, 1.9, -0.6, -1.4, -2.2, -3.0, -5.0, -5.8, -6.4],
 [7.5, 5.0, 4.5, 1.9, 0.2, -0.6, -1.4, -2.2, -3.6, -4.8, -5.5],
 [8.2, 7.9, 5.2, 1.4, -0.2, -1.0, -1.8, -2.7, -3.6, -4.7, -5.8],
 [8.4, 5.0, 4.3, 1.4, -0.4, -3.7, -5.2],
]
XIA1_fill_t = [0.25, 0.55, 0.85, 1.15, 1.45, 1.8, 2.2, 2.6, 3.0, 3.4, 3.8, 4.2, 5.8, 6.15, 6.45, 6.75, 7.05, 8.4, 8.8, 9.2, 9.6, 10.5, 10.9, 15.7, 16.1, 16.5, 16.9, 17.3, 17.7, 18.1, 18.5, 18.9, 19.3]
XIA1_fill_u = [
 [0.6, -0.2, -1.0, -1.8, -2.6, -3.3],
 [1.0, 0.2, -0.6, -1.4, -2.2, -3.0, -3.7],
 [1.8, 1.0, 0.2, -0.6, -1.4, -2.2, -3.0, -3.7],
 [3.1, 2.3, 1.5, 0.7, -0.1, -0.9, -1.7, -2.5, -3.3],
 [4.9, 4.1, 3.3, 2.5, 1.7, 0.9, 0.1, -0.7, -1.5, -2.3, -3.0],
 [6.0, 5.2, 4.4, 3.6, 2.8, 2.0, 1.2, 0.4, -0.4, -1.2, -2.0],
 [5.6, 4.8, 4.0, 3.2, 2.4, 1.6, 0.8, 0.0, -0.8, -1.6],
 [4.4, 3.6, 2.8, 2.0, 1.2, 0.4, -0.4, -1.2, -2.0],
 [3.9, 3.1, 2.3, 1.5, 0.7, -0.1, -0.9, -1.7, -2.5, -3.3],
 [3.1, 2.1, 1.2, 0.4, -0.4, -1.2, -2.0, -2.8, -3.5],
 [0.7, -0.1, -0.9, -1.7, -2.5, -3.3],
 [0.8, 0.0, -0.8, -1.6, -2.4, -3.0],
 [2.2, 1.4, 0.6, -0.2],
 [3.2, 2.4, 1.6, 0.8, 0.0, -0.8],
 [3.9, 3.1, 2.3, 1.5, 0.7, 0.0],
 [3.4, 2.6, 1.8, 1.0, -3.8, -4.6, -5.4, -6.2, -7.0, -7.7],
 [-3.8, -4.6, -5.4, -6.2, -6.9, -7.7],
 [0.9, 0.1, -0.7, -1.5, -2.3, -3.1, -3.9],
 [1.6, 0.8, 0.0, -0.8, -1.6, -2.4, -3.2, -4.0, -4.8],
 [1.4, 0.6, -0.2, -1.0, -1.8, -2.6, -3.4, -4.2, -5.0],
 [-3.2, -4.0, -4.8],
 [3.6, 2.8, 2.0, 1.2, 0.4, -0.2],
 [3.1, 2.3, 1.5, 0.7, -0.1],
 [1.5, 0.7, -0.1, -0.9, -1.7, -2.5, -3.3, -4.1],
 [1.6, 0.8, 0.0, -0.8, -1.6, -2.4, -3.2, -4.0],
 [1.8, 0.9, 0.1, -0.7, -1.5, -2.3, -3.1, -3.9, -4.7],
 [0.4, -0.4, -1.2, -2.0, -2.8, -3.6, -4.2],
 [1.5, 0.7, -0.1, -0.9, -1.7, -2.5, -3.3, -4.1],
 [2.4, 1.5, 0.7, -1.0, -1.8, -2.6, -3.3],
 [3.0, 2.1, 1.3, 0.5, -0.3, -1.1, -1.9, -2.7],
 [3.2, 2.4, 1.6, 0.8, 0.0, -0.8, -1.6, -2.4],
 [1.2, 0.4, -0.4, -1.2, -2.0],
 [0.9, 0.1, -0.7, -1.5, -2.2],
]

XIA5_blue_t = [7.4, 7.7, 8.0, 8.3, 8.6, 8.9, 9.2, 9.5, 9.9, 10.2, 10.6, 11.0, 13.2, 13.5, 13.9, 16.7, 17.0, 17.3, 20.4]
XIA5_blue_u = [
 [-7.4, -8.3, -9.0, -9.6],
 [-6.1, -7.6, -8.4, -9.2, -9.8, -10.0],
 [7.5, 6.5, 5.8, 5.2, -5.2, -6.6, -7.3, -8.2, -8.7, -9.4],
 [9.8, 9.3, 8.8, 8.4, 7.9, 7.2, 6.1, 5.5],
 [9.9, 9.3, 8.9, 8.3, 7.5, 5.4],
 [9.6, 9.0, 8.5, 8.1, 7.2],
 [9.3, 8.8, 8.1],
 [3.6, 2.4],
 [7.5, 4.5, 3.7],
 [0.8, -8.2],
 [-7.9, -8.4, -9.6, -10.0],
 [-7.0, -7.6, -9.8],
 [7.6, 7.0, 6.0, 5.4],
 [10.0, 9.5, 9.0, 7.2, 6.6, 5.8, 3.3],
 [9.3, 9.0, 8.7, 7.2, 5.8],
 [9.5, 9.2],
 [9.8, 9.5, 9.2, 8.9, 8.3, 6.4, 6.0, 3.0],
 [9.6, 8.7, 2.5],
 [6.5, 2.0, 1.0],
]
XIA5_red_t = [0.1, 0.4, 0.8, 1.2, 1.6, 2.0, 2.4, 2.8, 3.2, 3.6, 4.0, 4.4, 4.7,
 6.8, 7.2, 7.6, 8.0, 8.4, 8.8, 9.2, 9.6, 10.0, 10.4, 10.8, 11.2, 11.6, 12.0, 12.5, 12.9, 13.3, 13.7, 14.1, 14.5, 14.9, 15.3, 15.7, 16.1, 16.5, 16.9, 17.3, 17.7, 18.1,
 22.8, 23.2]
XIA5_red_u = [
 [1.4, 0.6, -0.2, -1.0, -1.8, -2.6, -4.9],
 [2.2, 1.4, 0.6, -0.2, -1.0, -1.8, -2.6, -3.4, -4.4, -5.0],
 [2.9, 2.1, 1.3, 0.5, -0.3, -1.1, -1.9, -2.7, -3.5],
 [3.5, 2.7, 1.9, 1.1, 0.3, -0.5, -1.3, -2.1, -2.9, -3.7, -4.1],
 [4.1, 3.3, 2.5, 1.7, 0.9, 0.1, -0.7, -1.5, -2.3, -3.1, -3.9, -4.4],
 [4.3, 3.5, 2.7, 1.9, 1.1, 0.3, -0.5, -1.3, -2.1, -2.9, -3.7, -4.5, -5.2],
 [4.1, 3.3, 2.5, 1.7, 0.9, 0.1, -0.7, -1.5, -2.3, -3.1, -3.9, -4.7, -5.5, -6.5],
 [3.7, 2.9, 2.1, 1.3, 0.5, -0.3, -1.1, -1.9, -2.7, -3.5, -4.3, -5.0],
 [4.1, 3.2, 2.4, 1.6, 0.8, 0.0, -0.8, -1.6, -2.4, -3.2, -4.3],
 [3.9, 3.0, 2.2, 1.4, 0.6, -0.2, -1.0, -1.8, -2.6],
 [2.9, 2.1, 1.3, 0.5, -0.3, -1.1, -1.9],
 [2.2, 1.4, 0.6, -0.2, -1.0],
 [0.8, 0.0],
 [4.0, 2.2, 1.4, 0.6, -0.2, -1.0, -1.8, -2.6, -3.4, -4.2],
 [2.8, 2.0, 1.2, 0.4, -0.4, -1.2, -2.0, -2.8, -3.6, -4.4, -6.2],
 [3.8, 2.9, 2.1, 1.3, 0.5, -0.3, -1.1, -1.9, -2.7, -3.5, -4.3, -5.1, -6.3],
 [4.9, 3.5, 2.7, 1.9, 1.1, 0.3, -0.5, -1.3, -2.1, -2.9, -3.7, -4.5, -5.3, -7.5],
 [6.6, 5.6, 4.8, 3.2, 2.4, 1.6, 0.8, 0.0, -0.8, -1.6, -2.4, -3.2, -4.0, -4.8],
 [7.2, 6.4, 5.6, 4.8, 4.0, 2.7, 1.9, 1.1, 0.3, -0.5, -1.3, -2.1, -2.9],
 [6.9, 6.1, 5.3, 4.5, 2.8, 2.0, 1.2, 0.4, -0.4, -1.2, -2.0, -2.4],
 [6.4, 5.6, 4.8, 2.5, 1.7, 0.9, 0.1, -1.6, -3.2, -4.0, -5.0],
 [2.2, 1.4, -0.6, -1.4, -2.2, -3.0, -3.8, -4.6, -5.4, -6.8],
 [1.1, 0.3, -0.5, -1.3, -2.1, -2.9, -3.7, -4.5, -5.3, -6.1, -6.9],
 [1.4, 0.6, -0.2, -1.0, -1.8, -2.6, -3.4, -4.2, -5.0, -5.8, -6.5],
 [5.4, 4.3, 1.3, 0.5, -0.3, -1.1, -1.9, -2.7, -3.5, -4.3, -5.1, -5.9, -6.3],
 [5.6, 4.8, 4.0, 3.4, 1.9, 1.1, 0.3, -0.5, -1.3, -2.1, -2.9, -3.7, -4.5, -5.3],
 [2.0, 1.2, 0.4, -0.4, -1.2, -2.0, -2.8, -3.6, -4.2],
 [4.3, 2.4, 1.6, 0.8, 0.0, -0.8, -1.6, -2.4, -3.2, -4.0, -4.8, -6.4],
 [4.2, 2.6, 1.8, 1.0, 0.2, -0.6, -1.4, -2.2, -3.0, -3.8, -4.6, -5.4, -7.3],
 [5.2, 4.4, 2.7, 1.9, 1.1, 0.3, -0.5, -1.3, -2.1, -2.9, -3.7, -4.5, -5.3, -6.1],
 [5.0, 4.2, 3.5, 2.2, 1.4, 0.6, -0.2, -1.0, -1.8, -2.6, -3.4, -4.2, -5.0, -6.5],
 [2.9, 2.1, 1.3, 0.5, -0.3, -1.1, -1.9, -2.7, -3.5, -4.3],
 [3.6, 2.7, 1.9, 1.1, 0.3, -0.5, -1.3, -2.1],
 [4.3, 3.5, 2.7, 1.9, 1.1, 0.3, -0.5, -1.3],
 [4.8, 3.9, 3.1, 2.3, 1.5, 0.7, -0.1],
 [4.3, 3.5, 2.7, 1.9, 1.1, 0.3, -0.5, -2.5],
 [4.2, 3.6, 2.8, 2.0, 1.2, 0.4, -0.4, -1.2, -3.0],
 [6.1, 4.3, 3.5, 2.7, 1.9, 1.1, 0.3, -0.5, -1.3, -2.1, -2.9, -3.7, -5.5],
 [4.8, 4.1, 3.3, 2.5, 1.7, 0.9, 0.1, -0.7, -1.5, -2.3, -3.1, -3.9, -4.7, -5.5, -6.4],
 [4.7, 2.4, 1.6, 0.8, 0.0, -0.8, -1.6, -2.4, -3.2, -4.0, -4.8, -5.6, -6.0],
 [2.6, 1.7, 0.9, 0.1, -0.7, -1.5, -3.5],
 [0.0],
 [2.5, 1.7, 0.9, 0.1, -0.7, -1.5, -2.3],
 [3.0, 2.2, 1.4, 0.6, -0.2, -1.0, -1.8, -2.6],
]
XIA5_fill_t = [0.25, 0.6, 1.0, 1.4, 1.8, 2.2, 2.6, 3.0, 3.4, 3.8, 4.2, 7.0, 7.4, 7.8, 8.2, 8.6, 9.0, 9.4, 9.8, 10.2, 10.6, 11.0, 11.4, 11.8, 12.7, 13.1, 13.5, 13.9, 14.3, 14.7, 15.1, 15.5, 15.9, 16.3, 16.7, 17.1, 17.5, 23.0]
XIA5_fill_u = [
 [1.0, 0.2, -0.6, -1.4, -2.2],
 [1.8, 1.0, 0.2, -0.6, -1.4, -2.2, -3.0, -3.8],
 [2.5, 1.7, 0.9, 0.1, -0.7, -1.5, -2.3, -3.1, -3.8],
 [3.1, 2.3, 1.5, 0.7, -0.1, -0.9, -1.7, -2.5, -3.3, -4.0],
 [3.7, 2.9, 2.1, 1.3, 0.5, -0.3, -1.1, -1.9, -2.7, -3.5, -4.3],
 [3.9, 3.1, 2.3, 1.5, 0.7, -0.1, -0.9, -1.7, -2.5, -3.3, -4.1, -4.9],
 [3.8, 3.0, 2.2, 1.4, 0.6, -0.2, -1.0, -1.8, -2.6, -3.4, -4.2, -5.0],
 [3.3, 2.5, 1.7, 0.9, 0.1, -0.7, -1.5, -2.3, -3.1, -3.9, -4.7],
 [3.6, 2.8, 2.0, 1.2, 0.4, -0.4, -1.2, -2.0, -2.8, -3.6],
 [2.6, 1.8, 1.0, 0.2, -0.6, -1.4, -2.2, -3.0],
 [1.8, 1.0, 0.2, -0.6, -1.4],
 [2.4, 1.6, 0.8, 0.0, -0.8, -1.6, -2.4, -3.2, -4.0],
 [3.2, 2.4, 1.6, 0.8, 0.0, -0.8, -1.6, -2.4, -3.2, -4.0, -4.8],
 [3.1, 2.3, 1.5, 0.7, -0.1, -0.9, -1.7, -2.5, -3.3, -4.1, -4.9, -5.7],
 [6.2, 5.3, 4.4, 2.8, 2.0, 1.2, 0.4, -0.4, -1.2, -2.0, -2.8, -3.6, -4.4],
 [7.0, 6.2, 5.4, 4.6, 3.6, 2.8, 2.0, 1.2, 0.4, -0.4, -1.2, -2.0, -2.8],
 [6.6, 5.8, 5.0, 4.2, 2.4, 1.6, 0.8, 0.0, -0.8, -1.6],
 [6.1, 5.3, 4.5, 2.1, 1.3, 0.5, -0.3],
 [5.6, 2.0, 1.2, -1.0, -1.8, -2.6, -3.4, -4.2, -5.0, -5.8],
 [1.8, 1.0, 0.2, -0.9, -1.7, -2.5, -3.3, -4.1, -4.9, -5.7, -6.3],
 [1.0, 0.2, -0.6, -1.4, -2.2, -3.0, -3.8, -4.6, -5.4, -6.2],
 [1.8, 0.9, 0.1, -0.7, -1.5, -2.3, -3.1, -3.9, -4.7, -5.5],
 [1.5, 0.7, -0.1, -0.9, -1.7, -2.5, -3.3, -4.1, -4.9],
 [1.6, 0.8, 0.0, -0.8, -1.6, -2.4, -3.2, -4.0],
 [2.0, 1.2, 0.4, -0.4, -1.2, -2.0, -2.8, -3.6, -4.4],
 [2.2, 1.4, 0.6, -0.2, -1.0, -1.8, -2.6, -3.4, -4.2, -5.0],
 [4.8, 2.3, 1.5, 0.7, -0.1, -0.9, -1.7, -2.5, -3.3, -4.1, -4.9, -5.7],
 [4.6, 2.5, 1.7, 0.9, 0.1, -0.7, -1.5, -2.3, -3.1, -3.9],
 [2.5, 1.7, 0.9, 0.1, -0.7, -1.5, -2.3, -3.1],
 [3.2, 2.3, 1.5, 0.7, -0.1, -0.9, -1.7],
 [3.9, 3.1, 2.3, 1.5, 0.7, -0.1, -0.9],
 [4.4, 3.5, 2.7, 1.9, 1.1, 0.3, -0.5],
 [3.9, 3.1, 2.3, 1.5, 0.7, -0.1],
 [3.9, 3.2, 2.4, 1.6, 0.8, 0.0, -0.8],
 [3.9, 3.1, 2.3, 1.5, 0.7, -0.1, -0.9, -1.7, -2.5],
 [4.4, 3.7, 2.9, 2.1, 1.3, 0.5, -0.3, -1.1, -1.9, -2.7, -3.5, -4.3, -5.1],
 [2.0, 1.3, 0.5, -0.3, -1.1, -1.9, -2.7, -3.5, -4.3, -5.1],
 [2.6, 1.8, 1.0, 0.2, -0.6, -1.4, -2.2],
]

PANELS = [
 (BRCH_blue_t, BRCH_blue_u, BRCH_red_t, BRCH_red_u, BRCH_fill_t, BRCH_fill_u),
 (GUA1_blue_t, GUA1_blue_u, GUA1_red_t, GUA1_red_u, GUA1_fill_t, GUA1_fill_u),
 (LHA1_blue_t, LHA1_blue_u, LHA1_red_t, LHA1_red_u, LHA1_fill_t, LHA1_fill_u),
 (WUH1_blue_t, WUH1_blue_u, WUH1_red_t, WUH1_red_u, WUH1_fill_t, WUH1_fill_u),
 (XIA1_blue_t, XIA1_blue_u, XIA1_red_t, XIA1_red_u, XIA1_fill_t, XIA1_fill_u),
 (XIA5_blue_t, XIA5_blue_u, XIA5_red_t, XIA5_red_u, XIA5_fill_t, XIA5_fill_u),
]


def expand(times, columns):
    xs, ys = [], []
    for t, col in zip(times, columns):
        for u in col:
            xs.append(t)
            ys.append(u)
    return xs, ys


W, H = 960, 780
LEFTS = [87, 405, 724]
TOPS = [72, 442]
AW, AH = 243, 264
AX_COLOR = '#404040'
TEXT = '#262626'

fig = plt.figure(figsize=(W / 100, H / 100), dpi=100)
handles = None
for i, (name, panel) in enumerate(zip(STATIONS, PANELS)):
    col, row = i % 3, i // 3
    ax = fig.add_axes([LEFTS[col] / W, 1 - (TOPS[row] + AH) / H, AW / W, AH / H])
    bx, by = expand(panel[0], panel[1])
    rx, ry = expand(panel[2], panel[3])
    fx, fy = expand(panel[4], panel[5])
    h1, = ax.plot(bx, by, ls='none', marker='+', ms=11, mew=0.8, color='#0000ff', clip_on=False, zorder=3)
    h2, = ax.plot(rx + fx, ry + fy, ls='none', marker=(8, 2, 0), ms=12, mew=0.8, color='#ff0000', clip_on=False, zorder=4)
    handles = (h1, h2)
    ax.set_xlim(0, 24)
    ax.set_ylim(-10, 10)
    ax.set_xticks(X_TICKS)
    ax.set_yticks(Y_TICKS)
    ax.grid(True, color='#dcdcdc', lw=0.9)
    ax.set_axisbelow(True)
    ax.tick_params(axis='x', direction='in', length=2.5, width=0.7, color=AX_COLOR, labelcolor=TEXT,
                   labelsize=16.5, pad=9, top=True)
    ax.tick_params(axis='y', direction='in', length=2.5, width=0.7, color=AX_COLOR, labelcolor=TEXT,
                   labelsize=16.5, pad=6, right=True)
    for s in ax.spines.values():
        s.set_color(AX_COLOR)
        s.set_linewidth(0.9)
        s.set_zorder(5)
    ax.set_title(name, fontsize=18.5, fontweight='bold', pad=6, color='black')
    if col == 0:
        ax.set_ylabel('U (m)', fontsize=17.5, color=TEXT, labelpad=7)
    if row == 1:
        ax.set_xlabel('universal time (h)', fontsize=18.4, color=TEXT, labelpad=9)

fig.legend(handles, ['non-corr', 'tgd-corr'], ncol=2, frameon=False, loc='center',
           bbox_to_anchor=(525 / W, 1 - 20 / H), fontsize=15.3, labelcolor=TEXT,
           handlelength=1.0, handletextpad=1.5, columnspacing=1.7, borderpad=0)
fig.savefig('out.png', dpi=100)
